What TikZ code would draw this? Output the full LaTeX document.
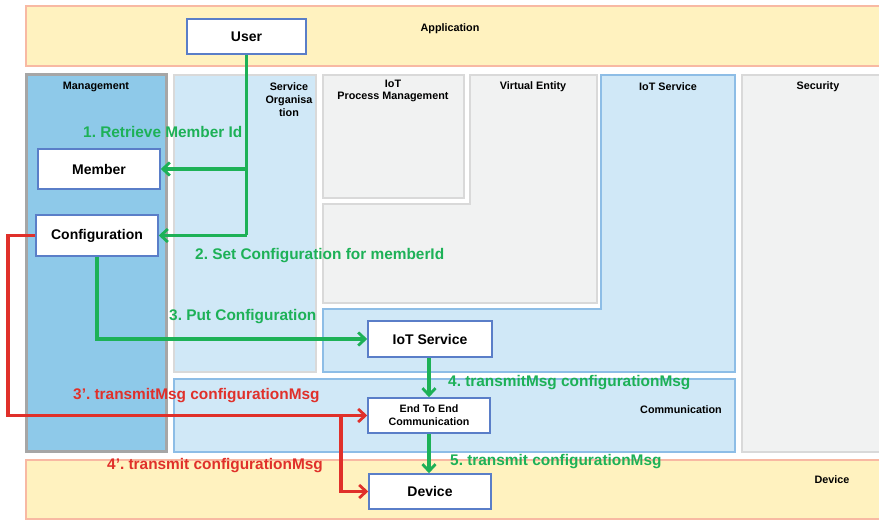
\documentclass[tikz,border=0pt]{standalone}
\usepackage{fontspec}
\setmainfont{Liberation Sans}
\usetikzlibrary{arrows.meta}
\definecolor{bandfill}{HTML}{FFF2BF}
\definecolor{bandline}{HTML}{F8B9A3}
\definecolor{mgmtfill}{HTML}{8EC9E9}
\definecolor{mgmtline}{HTML}{A6A6A6}
\definecolor{lblue}{HTML}{D0E8F7}
\definecolor{bline}{HTML}{8DBDE6}
\definecolor{gfill}{HTML}{F1F2F2}
\definecolor{gline}{HTML}{D9D9D9}
\definecolor{boxline}{HTML}{5A7EC8}
\definecolor{flowgreen}{HTML}{1DB157}
\definecolor{flowred}{HTML}{E0302A}
\frenchspacing
\tikzset{
  band/.style={fill=bandfill,draw=bandline,line width=2.8pt},
  greyarea/.style={fill=gfill,draw=gline,line width=2.8pt},
  bluearea/.style={fill=lblue,draw=bline,line width=2.8pt},
  softarea/.style={fill=lblue,draw=gline,line width=2.8pt},
  comp/.style={draw=boxline,fill=white,line width=1.5pt,font=\bfseries\fontsize{14}{16}\selectfont,
    minimum width=#1,minimum height=36pt,inner sep=0pt,align=center},
  comp/.default=122pt,
  area/.style={font=\bfseries\fontsize{10.8}{12}\selectfont,align=center,inner sep=0pt},
  gflow/.style={draw=flowgreen,line width=3.2pt,-{Straight Barb[length=7pt,width=13pt,line width=2.8pt]}},
  rflow/.style={draw=flowred,line width=3.2pt,-{Straight Barb[length=7pt,width=13pt,line width=2.8pt]}},
  glabel/.style={text=flowgreen,font=\bfseries\fontsize{15.4}{17}\selectfont,inner sep=0pt},
  rlabel/.style={text=flowred,font=\bfseries\fontsize{15.4}{17}\selectfont,inner sep=0pt},
}
\begin{document}
\begin{tikzpicture}[x=1pt,y=-1pt]
\useasboundingbox (0,0) rectangle (879,521);
\fill[white] (0,0) rectangle (879,521);

% layers
\draw[band] (26,6) rectangle (885,66);
\draw[band] (26,460) rectangle (885,519);
\draw[fill=mgmtfill,draw=mgmtline,line width=3pt] (26,75) rectangle (166,452);
\draw[softarea] (174,75) rectangle (316,372);
\draw[greyarea] (323,75) rectangle (464,198);
\draw[greyarea] (470,75) -- (597,75) -- (597,303) -- (323,303) -- (323,204) -- (470,204) -- cycle;
\draw[bluearea] (601,75) -- (735,75) -- (735,372) -- (323,372) -- (323,309) -- (601,309) -- cycle;
\draw[greyarea] (742,75) rectangle (885,452);
\draw[bluearea] (174,379) rectangle (735,452);

% layer titles
\node[area] (tApp) at (450,29) {Application};
\node[area,font=\bfseries\fontsize{10.8}{13}\selectfont] (tSO) at (289,100) {Service\\Organisa\\tion};
\node[area] (tMgmt) at (96,87) {Management};
\node[area,font=\bfseries\fontsize{10.8}{12}\selectfont] (tPM) at (393,91) {IoT\\Process Management};
\node[area] (tVE) at (533,87) {Virtual Entity};
\node[area] (tIS) at (668,87) {IoT Service};
\node[area] (tSec) at (818,87) {Security};
\node[area] (tCom) at (681,410) {Communication};
\node[area] (tDev) at (832,480) {Device};

% components
\node[comp=119pt,minimum height=35pt] (user) at (246.5,36.5) {User};
\node[comp=122pt,minimum height=40pt] (member) at (99,169) {Member};
\node[comp=122pt,minimum height=41pt] (config) at (97,235.5) {Configuration};
\node[comp=124pt] (iots) at (430,339) {IoT Service};
\node[comp=122pt,minimum height=35pt,font=\bfseries\fontsize{10.7}{13}\selectfont] (e2e) at (429,415.5) {End To End\\Communication};
\node[comp=122pt,minimum height=35pt] (dev) at (430,491.5) {Device};

% flows
\coordinate (jm) at (user.south |- member.east);
\coordinate (jc) at (user.south |- config.east);
\draw[draw=flowgreen,line width=3.2pt] (user.south) -- (jc);
\draw[gflow] (jm) -- (member.east);
\draw[gflow] (jc) -- (config.east);
\draw[gflow] (config.south) |- (iots.west);
\draw[gflow] (iots.south -| e2e.north) -- (e2e.north);
\draw[gflow] (e2e.south) -- (e2e.south |- dev.north);

\coordinate (rl) at (8,235.5);
\coordinate (rb) at (341,416);
\draw[rflow] (config.west) -- (rl) |- (e2e.west);
\draw[rflow] (rb) |- (dev.west);

% flow labels
\node[glabel,anchor=west] (l1) at (83,132) {1. Retrieve Member Id};
\node[glabel,anchor=west] (l2) at (195,256) {2. Set Configuration for memberId};
\node[glabel,anchor=west] (l3) at (169,317) {3. Put Configuration};
\node[glabel,anchor=west] (l4) at (448,383) {4. transmitMsg configurationMsg};
\node[glabel,anchor=west] (l5) at (450,462) {5. transmit configurationMsg};
\node[rlabel,anchor=west] (l3r) at (73,396) {3'. transmitMsg configurationMsg};
\node[rlabel,anchor=west] (l4r) at (107,466) {4'. transmit configurationMsg};
\end{tikzpicture}
\end{document}
